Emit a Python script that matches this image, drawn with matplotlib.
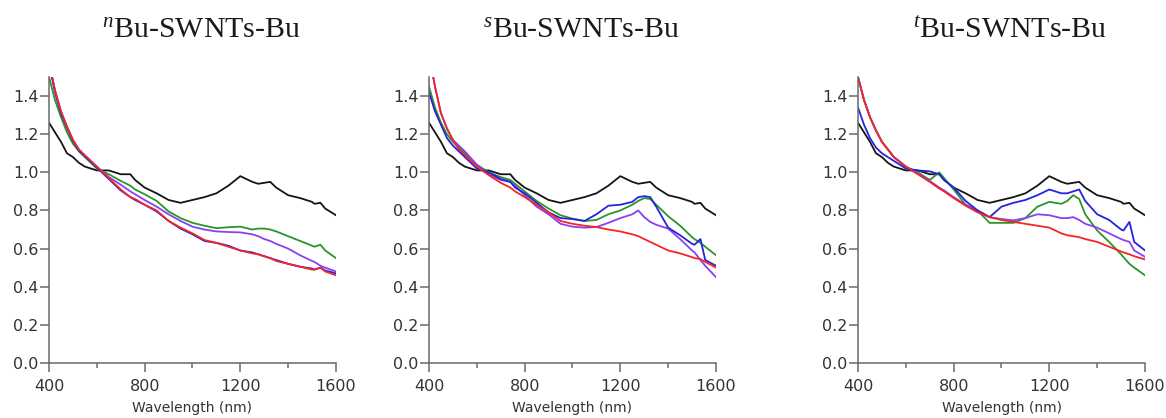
import matplotlib
matplotlib.use("Agg")
import matplotlib.pyplot as plt
from matplotlib.ticker import MultipleLocator

# Wavelength grid (nm) the curves were read at
wavelength = [400, 425, 450, 475, 500, 525, 550, 600, 650, 700, 740, 760, 800, 850,
              900, 950, 1000, 1050, 1100, 1150, 1200, 1250, 1275, 1300, 1325, 1350,
              1400, 1450, 1500, 1510, 1535, 1555, 1600]

# pristine reference curve, the same in every panel
black = [1.26, 1.21, 1.16, 1.10, 1.08, 1.05, 1.03, 1.01, 1.01, 0.99, 0.99, 0.96, 0.92, 0.89,
         0.855, 0.84, 0.855, 0.87, 0.89, 0.93, 0.98, 0.95, 0.94, 0.945, 0.95, 0.92,
         0.88, 0.865, 0.845, 0.835, 0.84, 0.81, 0.775]

# nBu panel
n_red = [1.58, 1.43, 1.32, 1.24, 1.17, 1.12, 1.09, 1.03, 0.97, 0.91, 0.87, 0.86, 0.83, 0.80,
         0.745, 0.71, 0.68, 0.645, 0.63, 0.61, 0.59, 0.575, 0.57, 0.56, 0.55, 0.535,
         0.52, 0.505, 0.49, 0.49, 0.50, 0.48, 0.46]
n_blue = [1.57, 1.42, 1.31, 1.235, 1.165, 1.115, 1.085, 1.025, 0.965, 0.905, 0.87, 0.855, 0.83, 0.795,
          0.745, 0.705, 0.675, 0.64, 0.63, 0.615, 0.59, 0.58, 0.57, 0.56, 0.55, 0.54,
          0.52, 0.505, 0.495, 0.49, 0.50, 0.485, 0.47]
n_green = [1.50, 1.38, 1.29, 1.21, 1.15, 1.11, 1.08, 1.02, 0.99, 0.955, 0.93, 0.91, 0.885, 0.85,
           0.795, 0.76, 0.735, 0.72, 0.707, 0.712, 0.715, 0.70, 0.705, 0.705, 0.70, 0.69,
           0.665, 0.64, 0.615, 0.61, 0.62, 0.59, 0.55]
n_purple = [1.58, 1.43, 1.32, 1.24, 1.17, 1.12, 1.085, 1.03, 0.975, 0.935, 0.90, 0.885, 0.855, 0.82,
            0.78, 0.745, 0.715, 0.70, 0.69, 0.687, 0.685, 0.675, 0.665, 0.65, 0.64, 0.625,
            0.60, 0.565, 0.535, 0.53, 0.51, 0.50, 0.48]

# sBu panel
s_red = [1.62, 1.45, 1.31, 1.23, 1.17, 1.12, 1.09, 1.03, 0.985, 0.945, 0.92, 0.90, 0.87, 0.83,
         0.79, 0.745, 0.73, 0.72, 0.713, 0.70, 0.69, 0.675, 0.665, 0.65, 0.635, 0.62,
         0.59, 0.575, 0.555, 0.55, 0.545, 0.53, 0.50]
s_blue = [1.42, 1.32, 1.25, 1.18, 1.14, 1.11, 1.08, 1.02, 1.00, 0.965, 0.95, 0.92, 0.89, 0.84,
          0.79, 0.76, 0.755, 0.745, 0.78, 0.825, 0.83, 0.845, 0.87, 0.875, 0.87, 0.82,
          0.71, 0.67, 0.625, 0.62, 0.65, 0.54, 0.51]
s_green = [1.45, 1.34, 1.26, 1.20, 1.16, 1.13, 1.10, 1.04, 1.00, 0.975, 0.96, 0.94, 0.90, 0.85,
           0.81, 0.775, 0.757, 0.745, 0.75, 0.78, 0.80, 0.83, 0.85, 0.865, 0.86, 0.83,
           0.77, 0.72, 0.66, 0.65, 0.63, 0.61, 0.565]
s_purple = [1.62, 1.45, 1.31, 1.23, 1.17, 1.14, 1.11, 1.04, 0.99, 0.96, 0.95, 0.93, 0.88, 0.82,
            0.78, 0.73, 0.715, 0.71, 0.713, 0.735, 0.76, 0.78, 0.80, 0.765, 0.74, 0.725,
            0.705, 0.65, 0.59, 0.58, 0.54, 0.51, 0.45]

# tBu panel
t_red = [1.50, 1.38, 1.29, 1.22, 1.16, 1.12, 1.08, 1.03, 0.99, 0.95, 0.915, 0.90, 0.865, 0.825,
         0.79, 0.765, 0.75, 0.74, 0.73, 0.72, 0.71, 0.68, 0.67, 0.665, 0.66, 0.65,
         0.635, 0.61, 0.585, 0.58, 0.57, 0.56, 0.543]
t_blue = [1.34, 1.25, 1.18, 1.13, 1.10, 1.08, 1.06, 1.02, 1.01, 1.005, 0.99, 0.96, 0.92, 0.85,
          0.80, 0.765, 0.82, 0.84, 0.855, 0.88, 0.91, 0.89, 0.89, 0.90, 0.91, 0.85,
          0.78, 0.75, 0.70, 0.695, 0.74, 0.635, 0.59]
t_green = [1.50, 1.38, 1.29, 1.22, 1.16, 1.12, 1.08, 1.03, 1.00, 0.96, 1.00, 0.97, 0.91, 0.83,
           0.80, 0.735, 0.735, 0.735, 0.76, 0.82, 0.845, 0.835, 0.85, 0.88, 0.86, 0.78,
           0.695, 0.635, 0.57, 0.555, 0.52, 0.50, 0.46]
t_purple = [1.50, 1.38, 1.29, 1.22, 1.16, 1.12, 1.08, 1.03, 0.995, 0.955, 0.92, 0.905, 0.87, 0.83,
            0.80, 0.765, 0.755, 0.748, 0.76, 0.78, 0.775, 0.76, 0.76, 0.765, 0.75, 0.73,
            0.71, 0.68, 0.65, 0.645, 0.635, 0.59, 0.557]

titles = [r"$^{n}$Bu-SWNTs-Bu", r"$^{s}$Bu-SWNTs-Bu", r"$^{t}$Bu-SWNTs-Bu"]
panels = [
    (n_red, n_blue, n_green, n_purple),
    (s_red, s_blue, s_green, s_purple),
    (t_red, t_blue, t_green, t_purple),
]

colors = {"black": "#151515", "red": "#f52525", "blue": "#2424dd",
          "green": "#2a952a", "purple": "#8a3ff0"}


def style_axis(ax):
    for side in ("top", "right"):
        ax.spines[side].set_visible(False)
    for side in ("left", "bottom"):
        ax.spines[side].set_color("#6a6a6a")
        ax.spines[side].set_linewidth(1.1)
    ax.set_xlim(400, 1600)
    ax.set_ylim(0, 1.5)
    ax.xaxis.set_major_locator(MultipleLocator(400))
    ax.xaxis.set_minor_locator(MultipleLocator(200))
    ax.yaxis.set_major_locator(MultipleLocator(0.2))
    ax.yaxis.set_major_formatter(plt.FuncFormatter(lambda v, p: f"{v:.1f}"))
    ax.tick_params(axis="both", which="major", direction="out", length=6.5, width=1.1,
                   color="#6a6a6a", labelcolor="#333333", labelsize=11.5)
    ax.tick_params(axis="x", which="major", pad=5)
    ax.tick_params(axis="y", which="major", pad=1)
    ax.tick_params(axis="x", which="minor", direction="out", length=3.5, width=1.1,
                   color="#6a6a6a")
    ax.set_xlabel("Wavelength (nm)", fontsize=10, color="#333333", labelpad=5)


def main():
    plt.rcParams["mathtext.fontset"] = "custom"
    plt.rcParams["mathtext.rm"] = "Liberation Serif"
    plt.rcParams["mathtext.it"] = "Liberation Serif:italic"

    fig = plt.figure(figsize=(11.66, 4.18), dpi=100)
    lefts = [49, 429, 858]
    for i, left in enumerate(lefts):
        ax = fig.add_axes([left / 1166, 55 / 418, 287 / 1166, 286 / 418])
        red, blue, green, purple = panels[i]
        ax.plot(wavelength, black, color=colors["black"], lw=1.3)
        ax.plot(wavelength, green, color=colors["green"], lw=1.3)
        ax.plot(wavelength, purple, color=colors["purple"], lw=1.3)
        ax.plot(wavelength, blue, color=colors["blue"], lw=1.3)
        ax.plot(wavelength, red, color=colors["red"], lw=1.3)
        style_axis(ax)
        ax.set_title(titles[i], x=0.53, pad=28, fontsize=21.5,
                     family="Liberation Serif", color="#1a1a1a")

    fig.savefig("out.png", dpi=100)


if __name__ == "__main__":
    main()
